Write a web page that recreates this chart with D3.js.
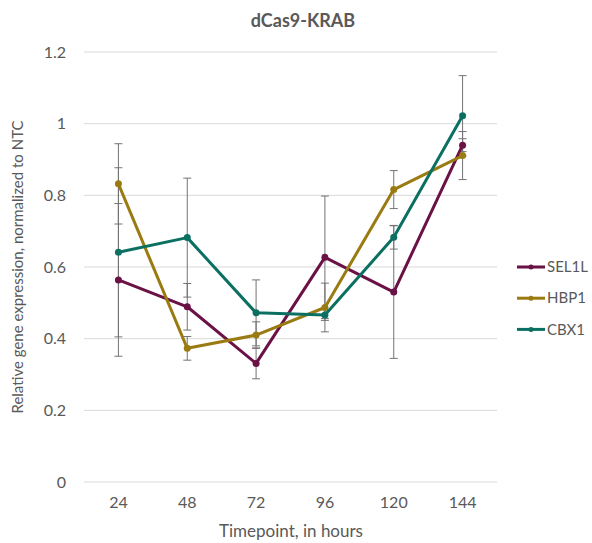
<!DOCTYPE html>
<html lang="en">

<head>
    <meta charset="UTF-8">
    <title>dCas9-KRAB</title>
    <script src="https://cdn.jsdelivr.net/npm/d3@7"></script>
    <style>
        body { margin: 0; background: #fff; }
        text { font-family: Lato, 'Open Sans', sans-serif; fill: #595959; }
    </style>
</head>

<body>
    <svg width="592" height="543" id="mainsvg"></svg>
</body>
<script>
    // timepoints (hours)
    const timepoints = ['24', '48', '72', '96', '120', '144']
    const seriesNames = ['SEL1L', 'HBP1', 'CBX1']
    const seriesColors = ['#6a1145', '#9a7b12', '#0b7062']

    const sel1l = [0.564, 0.489, 0.331, 0.627, 0.530, 0.940]
    const hbp1 = [0.832, 0.373, 0.410, 0.487, 0.816, 0.911]
    const cbx1 = [0.641, 0.682, 0.472, 0.466, 0.683, 1.022]

    const sel1lErr = [0.213, 0.065, 0.043, 0.171, 0.185, 0.018]
    const hbp1Err = [0.112, 0.033, 0.037, 0.068, 0.053, 0.067]
    const cbx1Err = [0.236, 0.166, 0.092, 0.015, 0.033, 0.112]

    const yTicks = [0, 0.2, 0.4, 0.6, 0.8, 1, 1.2]

    const series = [
        { name: seriesNames[0], color: seriesColors[0], values: sel1l, err: sel1lErr },
        { name: seriesNames[1], color: seriesColors[1], values: hbp1, err: hbp1Err },
        { name: seriesNames[2], color: seriesColors[2], values: cbx1, err: cbx1Err }
    ]

    const svg = d3.select('#mainsvg')
    const margin = { top: 52, left: 84, right: 95, bottom: 61 }
    const width = +svg.attr('width')
    const height = +svg.attr('height')
    const innerWidth = width - margin.left - margin.right
    const innerHeight = height - margin.top - margin.bottom

    const g = svg.append('g')
        .attr('transform', `translate(${margin.left},${margin.top})`)

    const xScale = d3.scaleBand().domain(timepoints).range([0, innerWidth])
    const yScale = d3.scaleLinear().domain([0, 1.2]).range([innerHeight, 0])
    const cx = t => xScale(t) + xScale.bandwidth() / 2

    // gridlines
    g.selectAll('.grid').data(yTicks).enter().append('line')
        .attr('x1', 0).attr('x2', innerWidth)
        .attr('y1', d => yScale(d)).attr('y2', d => yScale(d))
        .attr('stroke', '#d9d9d9').attr('stroke-width', 1)

    // y axis
    const yAxis = d3.axisLeft(yScale).tickValues(yTicks).tickSize(0).tickPadding(18)
        .tickFormat(d => d3.format('~g')(d))
    g.append('g').call(yAxis)
        .call(a => a.select('.domain').remove())
        .selectAll('text').attr('font-size', '16px').attr('fill', '#595959')
        .attr('font-family', 'Lato')

    // x axis
    const xAxis = d3.axisBottom(xScale).tickSize(0).tickPadding(15)
    g.append('g').attr('transform', `translate(0,${innerHeight})`).call(xAxis)
        .call(a => a.select('.domain').remove())
        .selectAll('text').attr('font-size', '16px').attr('fill', '#595959')
        .attr('font-family', 'Lato')

    // error bars
    series.forEach(s => {
        const eb = g.append('g').attr('stroke', '#737373').attr('stroke-width', 1)
        timepoints.forEach((t, i) => {
            const x = cx(t)
            const hi = yScale(s.values[i] + s.err[i])
            const lo = yScale(s.values[i] - s.err[i])
            eb.append('line').attr('x1', x).attr('x2', x).attr('y1', hi).attr('y2', lo)
            eb.append('line').attr('x1', x - 4).attr('x2', x + 4).attr('y1', hi).attr('y2', hi)
            eb.append('line').attr('x1', x - 4).attr('x2', x + 4).attr('y1', lo).attr('y2', lo)
        })
    })

    const line = d3.line().x((d, i) => cx(timepoints[i])).y(d => yScale(d))

    series.forEach(s => {
        g.append('path').datum(s.values)
            .attr('d', line)
            .attr('fill', 'none')
            .attr('stroke', s.color)
            .attr('stroke-width', 3)
            .attr('stroke-linejoin', 'round')
        g.selectAll(null).data(s.values).enter().append('circle')
            .attr('cx', (d, i) => cx(timepoints[i]))
            .attr('cy', d => yScale(d))
            .attr('r', 3.5)
            .attr('fill', s.color)
    })

    // legend
    const legend = svg.append('g').attr('transform', 'translate(517,267)')
    series.forEach((s, i) => {
        const row = legend.append('g').attr('transform', `translate(0,${i * 31.2})`)
        row.append('line').attr('x1', 0).attr('x2', 28).attr('y1', 0).attr('y2', 0)
            .attr('stroke', s.color).attr('stroke-width', 3)
        row.append('circle').attr('cx', 14).attr('cy', 0).attr('r', 2.5).attr('fill', s.color)
        row.append('text').attr('x', 30).attr('y', 0).attr('dy', '0.35em')
            .attr('font-size', '15px').text(s.name)
    })

    // title
    svg.append('text').attr('x', 303).attr('y', 27)
        .attr('text-anchor', 'middle').attr('font-size', '18px').attr('font-weight', 'bold')
        .text('dCas9-KRAB')

    // axis titles
    svg.append('text').attr('x', 291).attr('y', 537)
        .attr('text-anchor', 'middle').attr('font-size', '17px')
        .text('Timepoint, in hours')

    svg.append('text')
        .attr('transform', `translate(23,${margin.top + innerHeight / 2}) rotate(-90)`)
        .attr('text-anchor', 'middle').attr('font-size', '15px')
        .attr('font-family', 'Liberation Sans')
        .text('Relative gene expression, normalized to NTC')
</script>

</html>
